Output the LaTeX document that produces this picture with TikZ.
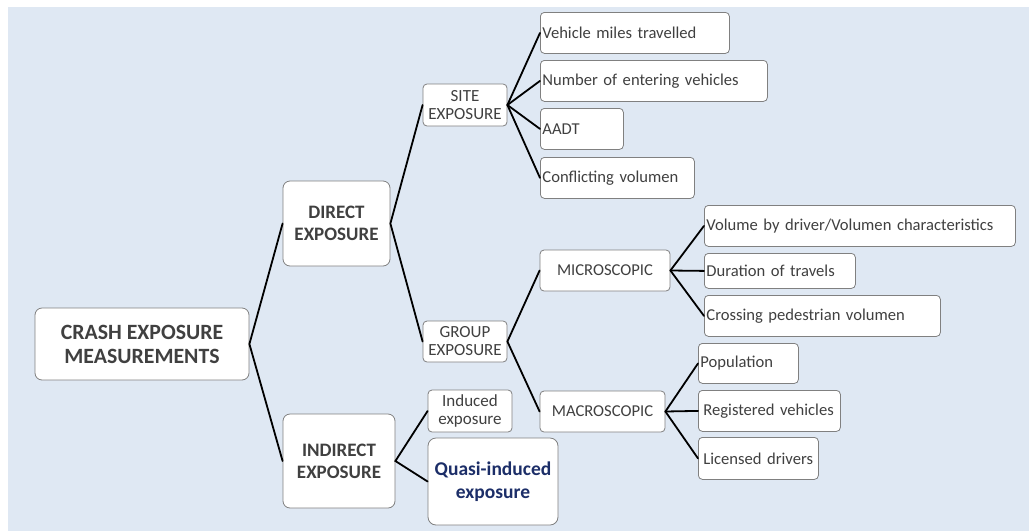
\documentclass[tikz,border=0pt]{standalone}
\usepackage{fontspec}
\setmainfont{Carlito}
\definecolor{fondo}{RGB}{223,232,243}
\definecolor{texto}{RGB}{64,64,64}
\definecolor{borde}{RGB}{128,128,128}
\definecolor{azul}{RGB}{28,46,104}

\begin{document}
\begin{tikzpicture}[x=1pt,y=-1pt,
  caja/.style={draw=borde, line width=0.8pt, fill=white, text=texto,
    rounded corners=4pt, inner xsep=2pt, inner ysep=0pt,
    font=\fontsize{16.6}{18}\selectfont},
  nivel/.style={caja, rounded corners=7pt, align=center,
    font=\fontsize{19}{22}\selectfont\bfseries},
  grupo/.style={caja, align=center},
  hoja/.style={caja, anchor=north west, align=left, text width=#1,
    minimum height=41pt},
  rama/.style={line width=1.8pt, line cap=round}]
  \useasboundingbox (0,0) rectangle (1029,531);
  \fill[fondo] (8,7) rectangle (1029,531);

  % niveles
  \node[nivel, minimum width=214pt, minimum height=72pt,
    font=\fontsize{21.8}{24}\selectfont\bfseries] (crash) at (142,344)
    {CRASH EXPOSURE\\MEASUREMENTS};
  \node[nivel, minimum width=107pt, minimum height=85pt] (direct) at (336.5,223.5)
    {DIRECT\\EXPOSURE};
  \node[nivel, minimum width=112pt, minimum height=94pt] (indirect) at (339,461)
    {INDIRECT\\EXPOSURE};

  \node[grupo, minimum width=84pt, minimum height=42pt, font=\fontsize{17}{18}\selectfont]
    (site) at (465,105) {SITE\\EXPOSURE};
  \node[grupo, minimum width=84pt, minimum height=41pt, font=\fontsize{17}{18}\selectfont]
    (group) at (465,341.5) {GROUP\\EXPOSURE};
  \node[grupo, minimum width=84pt, minimum height=42pt, font=\fontsize{17}{18}\selectfont]
    (induced) at (470,411) {Induced\\exposure};
  \node[grupo, rounded corners=8pt, minimum width=130pt, minimum height=87pt,
    text=azul, font=\fontsize{19.5}{23}\selectfont\bfseries]
    (quasi) at (493,481.5) {Quasi-induced\\exposure};

  \node[grupo, minimum width=130pt, minimum height=41pt] (micro) at (605,270.5) {MICROSCOPIC};
  \node[grupo, minimum width=125pt, minimum height=41pt] (macro) at (602.5,411.5) {MACROSCOPIC};

  % hojas
  \node[hoja=185pt] (miles) at (540,12) {Vehicle miles travelled};
  \node[hoja=223pt] (entering) at (540,60) {Number of entering vehicles};
  \node[hoja=79pt] (aadt) at (540,108) {AADT};
  \node[hoja=150pt] (conflict) at (540,157) {Conflicting volumen};

  \node[hoja=307pt] (driver) at (704,205) {Volume by driver/Volumen characteristics};
  \node[hoja=147pt, minimum height=35pt] (travels) at (704,253) {Duration of travels};
  \node[hoja=232pt] (pedestrian) at (704,295) {Crossing pedestrian volumen};

  \node[hoja=96pt, minimum height=40pt] (population) at (698,343) {Population};
  \node[hoja=132pt, inner xsep=5pt] (registered) at (698,390) {Registered vehicles};
  \node[hoja=110pt, inner xsep=5pt, minimum height=42pt] (licensed) at (698,437) {Licensed drivers};

  % ramas
  \draw[rama] (direct.west) -- (crash.east) -- (indirect.west);
  \draw[rama] (site.west) -- (direct.east) -- (group.west);
  \draw[rama] (induced.west) -- (indirect.east) -- (quasi.west);
  \foreach \h in {miles,entering,aadt,conflict}
    \draw[rama] (site.east) -- (\h.west);
  \draw[rama] (micro.west) -- (group.east) -- (macro.west);
  \foreach \h in {driver,travels,pedestrian}
    \draw[rama] (micro.east) -- (\h.west);
  \foreach \h in {population,registered,licensed}
    \draw[rama] (macro.east) -- (\h.west);
\end{tikzpicture}
\end{document}
